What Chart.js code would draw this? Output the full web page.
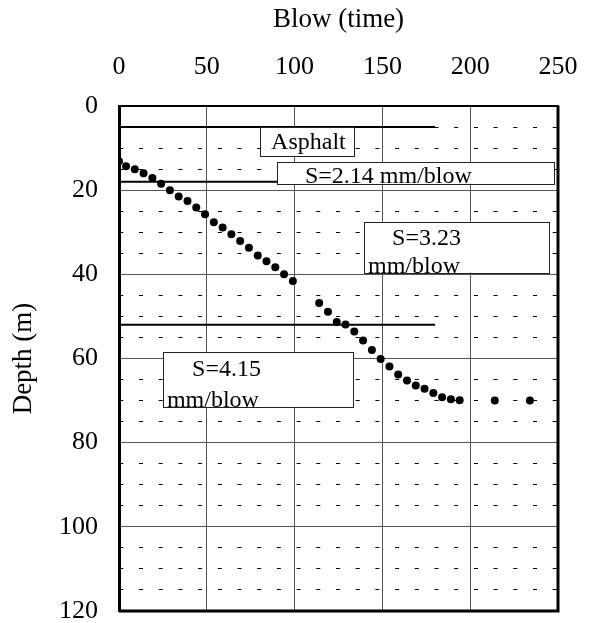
<!DOCTYPE html>
<html>
<head>
<meta charset="utf-8">
<script src="https://cdn.jsdelivr.net/npm/chart.js@4"></script>
<style>
  body { margin: 0; background: #fff; }
  canvas { display: block; }
</style>
</head>
<body>
<canvas id="chart" width="598" height="623"></canvas>
<script>
// penetration record: blow count vs depth
const blows = [0, 4, 9, 14, 19, 24, 29, 34, 39, 44, 49, 54, 59, 64, 69, 74, 79, 84, 89, 94, 99,
  114, 119, 124, 129, 134, 139, 144, 149, 154, 159, 164, 169, 174, 179, 184, 189, 194, 214, 234];
const depths = [13.1, 14.3, 15.0, 16.0, 17.1, 18.5, 20.0, 21.5, 22.6, 24.1, 25.7, 27.6, 28.9, 30.5, 32.1,
  33.7, 35.5, 36.9, 38.3, 40.0, 41.6, 46.8, 48.9, 51.3, 51.9, 53.6, 55.7, 58.0, 60.1, 61.9, 63.8,
  65.2, 66.4, 67.2, 68.2, 69.2, 69.7, 69.9, 70.0, 70.0];

// layer boundaries (depth) and how far the lines run along the blow axis
const layerDepths = [5, 18, 52];
const layerSpan = [0, 180];

const xTicks = [0, 50, 100, 150, 200, 250];

// text boxes, placed in data units
const notes = [
  { box: [80.3, 133.8, 5.0, 11.9], lines: [["Asphalt", 86.6, 10.2]] },
  { box: [90.0, 247.7, 13.3, 18.5], lines: [["S=2.14 mm/blow", 105.9, 18.4]] },
  { box: [139.5, 244.9, 27.5, 39.6], lines: [["S=3.23", 155.5, 33.1], ["mm/blow", 141.8, 39.8]] },
  { box: [25.1, 133.3, 58.5, 71.5], lines: [["S=4.15", 41.6, 64.2], ["mm/blow", 27.3, 71.5]] }
];

const FONT = "'Liberation Serif', 'Times New Roman', serif";

const layerSets = layerDepths.map(d => ({
  data: layerSpan.map(x => ({ x: x, y: d })),
  showLine: true,
  borderColor: "#000",
  borderWidth: 2,
  pointRadius: 0
}));

const notesPlugin = {
  id: "notes",
  afterDatasetsDraw(chart) {
    const { ctx, chartArea: a, scales: { x, y } } = chart;
    ctx.save();
    // right + bottom frame
    ctx.strokeStyle = "#000";
    ctx.lineWidth = 3;
    ctx.beginPath();
    ctx.moveTo(a.left, a.bottom);
    ctx.lineTo(a.right, a.bottom);
    ctx.lineTo(a.right, a.top);
    ctx.stroke();

    ctx.font = "24px " + FONT;
    ctx.textBaseline = "alphabetic";
    ctx.textAlign = "left";
    notes.forEach(n => {
      const x0 = x.getPixelForValue(n.box[0]), x1 = x.getPixelForValue(n.box[1]);
      const y0 = y.getPixelForValue(n.box[2]), y1 = y.getPixelForValue(n.box[3]);
      ctx.fillStyle = "#fff";
      ctx.fillRect(x0, y0, x1 - x0, y1 - y0);
      ctx.fillStyle = "#000";
      n.lines.forEach(l => ctx.fillText(l[0], x.getPixelForValue(l[1]), y.getPixelForValue(l[2])));
      ctx.strokeStyle = "#222";
      ctx.lineWidth = 1;
      ctx.strokeRect(Math.round(x0) + 0.5, Math.round(y0) + 0.5, Math.round(x1 - x0), Math.round(y1 - y0));
    });
    ctx.restore();
  }
};

const isMajor = (v) => v % 20 === 0;

new Chart(document.getElementById("chart"), {
  type: "scatter",
  data: {
    datasets: [
      {
        data: blows.map((b, i) => ({ x: b, y: depths[i] })),
        backgroundColor: "#000",
        borderWidth: 0,
        pointRadius: 4
      },
      ...layerSets
    ]
  },
  options: {
    responsive: false,
    animation: false,
    layout: { padding: { top: 0, left: 0, right: 40, bottom: 12 } },
    plugins: { legend: { display: false }, tooltip: { enabled: false } },
    scales: {
      x: {
        type: "linear",
        position: "top",
        min: 0,
        max: 250,
        afterBuildTicks: (s) => { s.ticks = xTicks.map(v => ({ value: v })); },
        afterFit: (s) => { s.height = 106; s.paddingLeft = 0; s.paddingRight = 0; },
        ticks: { font: { size: 26, family: FONT }, color: "#000", padding: 23, maxRotation: 0 },
        grid: { color: "#555", lineWidth: 1, drawTicks: false },
        border: { color: "#000", width: 2 },
        title: { display: true, text: "Blow (time)", color: "#000", font: { size: 27, family: FONT }, padding: { top: 4 } }
      },
      y: {
        type: "linear",
        reverse: true,
        min: 0,
        max: 120,
        ticks: {
          stepSize: 5,
          autoSkip: false,
          font: { size: 26, family: FONT },
          color: "#000",
          padding: 21,
          callback: (v) => isMajor(v) ? String(v) : ""
        },
        afterFit: (s) => { s.width = 119; s.paddingTop = 0; s.paddingBottom = 0; },
        grid: {
          drawTicks: false,
          color: (c) => (c.tick && !isMajor(c.tick.value)) ? "#000" : "#555",
          lineWidth: 1
        },
        border: {
          color: "#000",
          width: 3,
          dash: (c) => (c.tick && !isMajor(c.tick.value)) ? [4, 15.7] : [],
          dashOffset: -18
        },
        title: { display: true, text: "Depth (m)", color: "#000", font: { size: 27, family: FONT }, padding: { top: 8 } }
      }
    }
  },
  plugins: [notesPlugin]
});
</script>
</body>
</html>
